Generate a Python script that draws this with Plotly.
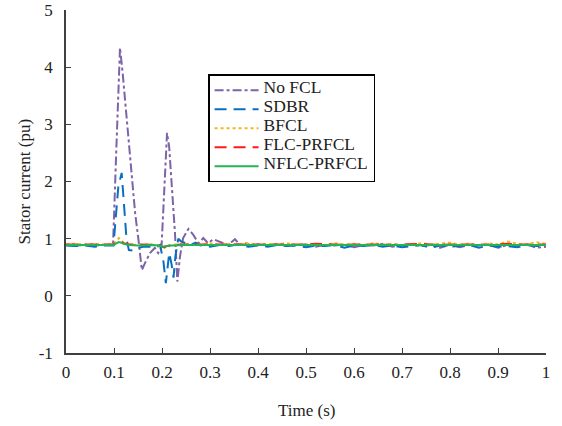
import plotly.graph_objects as go

# ---------------- data ----------------
t_steady = [0.40, 0.42, 0.44, 0.46, 0.48, 0.50, 0.52, 0.54, 0.56, 0.58, 0.60,
            0.62, 0.64, 0.66, 0.68, 0.70, 0.72, 0.74, 0.76, 0.78, 0.80,
            0.82, 0.84, 0.86, 0.88, 0.90, 0.92, 0.94, 0.96, 0.98, 1.00]

# No FCL
t_nofcl = [0, 0.02, 0.04, 0.06, 0.08, 0.098, 0.105, 0.1125, 0.118, 0.123, 0.129,
           0.137, 0.144, 0.151, 0.158, 0.165, 0.175, 0.185, 0.192, 0.199, 0.205,
           0.2105, 0.215, 0.22, 0.227, 0.232, 0.2375, 0.244, 0.255, 0.265, 0.276,
           0.286, 0.296, 0.307, 0.317, 0.328, 0.338, 0.352, 0.3625, 0.376, 0.388] + t_steady
y_nofcl = [0.89, 0.88, 0.89, 0.88, 0.89, 0.90, 2.60, 4.34, 3.90, 3.43, 2.85,
           2.15, 1.45, 0.98, 0.45, 0.58, 0.75, 0.84, 0.75, 0.86, 2.00,
           2.85, 2.60, 2.03, 1.10, 0.25, 0.69, 1.01, 1.17, 1.07, 0.92,
           1.01, 0.92, 0.99, 0.95, 0.92, 0.89, 0.99, 0.89, 0.92, 0.87,
           0.90, 0.88, 0.91, 0.87, 0.89, 0.90, 0.86, 0.89, 0.88, 0.90, 0.85,
           0.89, 0.88, 0.91, 0.86, 0.89, 0.90, 0.87, 0.89, 0.84, 0.90,
           0.85, 0.89, 0.88, 0.90, 0.84, 0.89, 0.88, 0.90, 0.84, 0.86]

# SDBR
t_sdbr = [0, 0.02, 0.04, 0.06, 0.08, 0.099, 0.102, 0.109, 0.116, 0.123, 0.126,
          0.131, 0.14, 0.151, 0.161, 0.175, 0.189, 0.196, 0.203, 0.208, 0.215,
          0.22, 0.224, 0.228, 0.234, 0.24, 0.25, 0.26, 0.27, 0.28, 0.29, 0.30,
          0.32, 0.34, 0.36, 0.38] + t_steady
y_sdbr = [0.88, 0.87, 0.88, 0.86, 0.88, 0.88, 1.20, 1.91, 2.15, 1.45, 1.00,
          0.80, 0.79, 0.84, 0.86, 0.86, 0.85, 0.89, 0.60, 0.22, 0.75,
          0.55, 0.32, 0.70, 1.00, 0.95, 0.92, 0.89, 0.93, 0.88, 0.90, 0.86,
          0.89, 0.87, 0.90, 0.86,
          0.88, 0.86, 0.89, 0.87, 0.88, 0.85, 0.88, 0.87, 0.89, 0.84, 0.88,
          0.87, 0.89, 0.86, 0.88, 0.85, 0.87, 0.89, 0.84, 0.88, 0.86,
          0.87, 0.89, 0.84, 0.88, 0.86, 0.87, 0.85, 0.89, 0.87, 0.88]

# BFCL
t_bfcl = [0, 0.02, 0.04, 0.06, 0.08, 0.1, 0.105, 0.11, 0.115, 0.12, 0.13, 0.15,
          0.17, 0.19, 0.2, 0.205, 0.21, 0.22, 0.24, 0.26, 0.28, 0.30, 0.32,
          0.34, 0.36, 0.38] + t_steady
y_bfcl = [0.90, 0.91, 0.90, 0.91, 0.90, 0.91, 0.97, 1.01, 0.98, 0.93, 0.90, 0.89,
          0.90, 0.89, 0.86, 0.84, 0.86, 0.89, 0.91, 0.89, 0.90, 0.92, 0.89,
          0.91, 0.90, 0.92,
          0.89, 0.91, 0.90, 0.92, 0.89, 0.90, 0.91, 0.89, 0.92, 0.90, 0.91,
          0.89, 0.92, 0.90, 0.91, 0.89, 0.90, 0.92, 0.90, 0.91, 0.93,
          0.90, 0.91, 0.89, 0.92, 0.90, 0.95, 0.91, 0.90, 0.94, 0.91]

# FLC-PRFCL
t_flc = [0, 0.05, 0.1, 0.105, 0.11, 0.115, 0.12, 0.13, 0.15, 0.18, 0.195,
         0.2, 0.205, 0.21, 0.22, 0.25, 0.30, 0.35] + t_steady
y_flc = [0.90, 0.90, 0.90, 0.94, 0.96, 0.95, 0.92, 0.90, 0.90, 0.90, 0.89,
         0.86, 0.85, 0.87, 0.89, 0.90, 0.90, 0.90,
         0.90, 0.89, 0.90, 0.90, 0.89, 0.90, 0.91, 0.90, 0.90, 0.89, 0.90,
         0.90, 0.91, 0.90, 0.89, 0.90, 0.90, 0.91, 0.90, 0.89, 0.90,
         0.90, 0.91, 0.90, 0.89, 0.90, 0.91, 0.90, 0.90, 0.91, 0.90]

# NFLC-PRFCL
t_nflc = [0, 0.05, 0.1, 0.105, 0.11, 0.115, 0.12, 0.13, 0.15, 0.18, 0.195,
          0.2, 0.205, 0.21, 0.22, 0.25, 0.30, 0.35] + t_steady
y_nflc = [0.89, 0.89, 0.89, 0.92, 0.94, 0.93, 0.91, 0.89, 0.88, 0.89, 0.88,
          0.86, 0.86, 0.87, 0.88, 0.89, 0.89, 0.89,
          0.89, 0.88, 0.89, 0.89, 0.88, 0.89, 0.89, 0.88, 0.89, 0.89, 0.88,
          0.89, 0.89, 0.88, 0.89, 0.89, 0.88, 0.89, 0.89, 0.88, 0.89,
          0.89, 0.88, 0.89, 0.89, 0.88, 0.89, 0.89, 0.88, 0.89, 0.89]

x_ticks = [0, 0.1, 0.2, 0.3, 0.4, 0.5, 0.6, 0.7, 0.8, 0.9, 1]
x_ticktext = ["0", "0.1", "0.2", "0.3", "0.4", "0.5", "0.6", "0.7", "0.8", "0.9", "1"]
y_ticks = [-1, 0, 1, 2, 3, 4, 5]
y_ticktext = ["-1", "0", "1", "2", "3", "4", "5"]
x_title = "Time (s)"
y_title = "Stator current (pu)"
series_names = ["No FCL", "SDBR", "BFCL", "FLC-PRFCL", "NFLC-PRFCL"]

# ---------------- figure ----------------
FONT = "Liberation Serif"
FS = 17
LEG_FS = 17.5
TXT = "#222"
fig = go.Figure()

series = [
    (t_nofcl, y_nofcl, "#7D63A8", "dashdot"),
    (t_sdbr, y_sdbr, "#0A6FC0", "12px,7px"),
    (t_bfcl, y_bfcl, "#F2B71E", "dot"),
    (t_flc, y_flc, "#FF1A1A", "12px,7px"),
    (t_nflc, y_nflc, "#23B455", "solid"),
]
for name, (t, y, c, d) in zip(series_names, series):
    fig.add_trace(go.Scatter(
        x=t, y=y, mode="lines",
        name=f'<span style="font-size:{LEG_FS}px">{name}</span>',
        line=dict(color=c, width=2, dash=d)))

axis_common = dict(showline=True, linecolor="#404040", linewidth=1.5,
                   ticks="inside", ticklen=5, tickcolor="#404040", tickwidth=1,
                   showgrid=False, zeroline=False, automargin=False,
                   tickfont=dict(family=FONT, size=FS, color=TXT))

fig.update_layout(
    width=562, height=426,
    margin=dict(l=66, r=16, t=10, b=73, autoexpand=False),
    paper_bgcolor="white", plot_bgcolor="white",
    font=dict(family=FONT, size=FS, color=TXT),
    xaxis=dict(range=[0, 1], tickvals=x_ticks, ticktext=x_ticktext,
               ticklabelstandoff=3, **axis_common),
    yaxis=dict(range=[-1, 5], tickvals=y_ticks, ticktext=y_ticktext,
               ticklabelstandoff=8, **axis_common),
    legend=dict(x=0.296, y=0.813, xanchor="left", yanchor="top",
                bgcolor="white", bordercolor="black", borderwidth=1.5,
                font=dict(family=FONT, size=8, color=TXT),
                tracegroupgap=0, itemwidth=44),
    showlegend=True,
    annotations=[
        dict(text=x_title, xref="paper", yref="paper", x=0.5, y=-0.169,
             xanchor="center", yanchor="middle", showarrow=False,
             font=dict(family=FONT, size=FS, color=TXT)),
        dict(text=y_title, xref="paper", yref="paper", x=-0.0875, y=0.5,
             xanchor="center", yanchor="middle", showarrow=False, textangle=-90,
             font=dict(family=FONT, size=FS, color=TXT)),
    ],
)

fig.write_html("out.html", config={"displayModeBar": False},
               post_script="document.body.style.margin='0';")
